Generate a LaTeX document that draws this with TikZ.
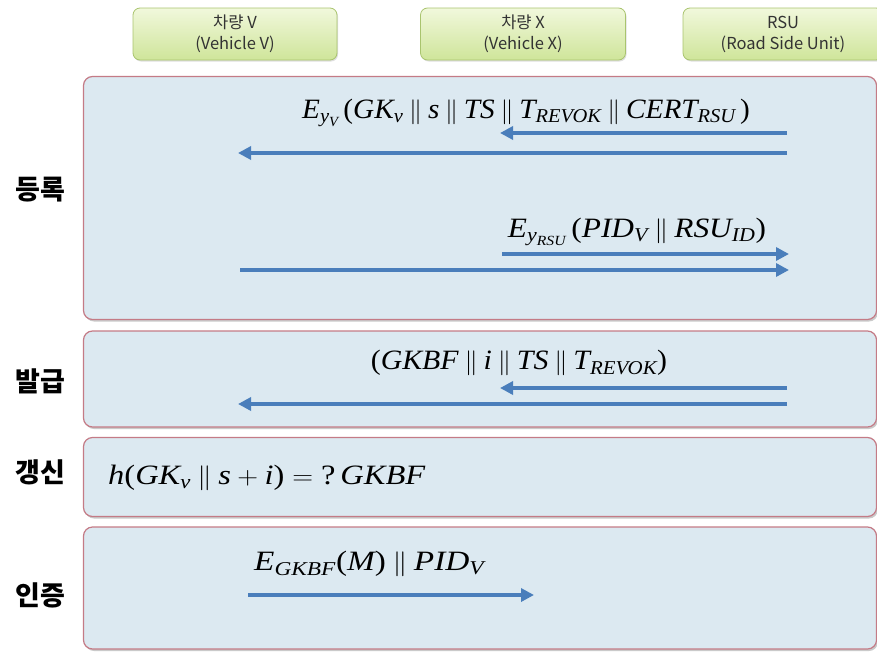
\documentclass[tikz,border=0pt]{standalone}
\usepackage{amsmath}
\usepackage{graphicx}
\usepackage{fontspec}
\setmainfont{Liberation Serif}
\newfontfamily\kr{Noto Sans CJK KR}
\usetikzlibrary{arrows.meta,shadows}
\newcommand{\mi}[1]{\textit{#1}}
\newcommand{\pp}{\mathbin{\|}}
\definecolor{panelfill}{HTML}{DCE9F1}
\definecolor{panelborder}{HTML}{C47B86}
\definecolor{arrowblue}{HTML}{4A7EBB}
\definecolor{hdrtop}{HTML}{F1F8DC}
\definecolor{hdrbot}{HTML}{CFE59A}
\definecolor{hdrborder}{HTML}{A9C46E}
\tikzset{
  panel/.style={draw=panelborder, line width=1.2pt, fill=panelfill, rounded corners=9pt,
    drop shadow={shadow xshift=1.5pt, shadow yshift=-2pt, fill=black!35, opacity=0.6}},
  hdr/.style={draw=hdrborder, line width=0.8pt, top color=hdrtop, bottom color=hdrbot,
    rounded corners=7pt, align=center, font=\kr\fontsize{16.5}{21}\selectfont, text=black!80,
    drop shadow={shadow xshift=1pt, shadow yshift=-1.5pt, fill=black!25, opacity=0.5}},
  sidelbl/.style={font=\kr\bfseries\fontsize{27}{29}\selectfont, text=black},
  msg/.style={font=\fontsize{28}{30}\selectfont, inner sep=0pt},
  flow/.style={draw=arrowblue, line width=4pt, -{Triangle[length=13pt,width=13pt]}},
}
\begin{document}
\begin{tikzpicture}[x=1pt,y=-1pt]
\useasboundingbox (0,0) rectangle (877,653);
% headers
\node[hdr, minimum width=204pt, minimum height=52pt] (hv) at (235,34) {차량 V\\(Vehicle V)};
\node[hdr, minimum width=205pt, minimum height=52pt] (hx) at (523,34) {차량 X\\(Vehicle X)};
\node[hdr, minimum width=200pt, minimum height=52pt] (hr) at (783,34) {RSU\\(Road Side Unit)};
% panels
\node[panel, minimum width=793pt, minimum height=243pt] (p1) at (480,198) {};
\node[panel, minimum width=793pt, minimum height=96pt] (p2) at (480,379) {};
\node[panel, minimum width=793pt, minimum height=79pt] (p3) at (480,477) {};
\node[panel, minimum width=793pt, minimum height=122pt] (p4) at (480,588) {};
% side labels
\node[sidelbl] (l1) at (40,190) {등록};
\node[sidelbl] (l2) at (40,381) {발급};
\node[sidelbl] (l3) at (40,472) {갱신};
\node[sidelbl] (l4) at (40,595) {인증};
% panel 1
\node[msg] (m1) at (526,113) {\scalebox{1.045}[1]{$\mi{E}_{\mi{y}_{\mi{V}}}\,\textrm{(}\mi{GK}_{\mi{v}}\pp\mi{s}\pp\mi{TS}\pp\mi{T}_{\mi{REVOK}}\pp\mi{CERT}_{\mi{RSU}}\,\textrm{)}$}};
\coordinate (a1s) at (787,133); \coordinate (a1e) at (500,133);
\coordinate (a2s) at (787,153); \coordinate (a2e) at (238,153);
\draw[flow] (a1s) -- (a1e);
\draw[flow] (a2s) -- (a2e);
\node[msg] (m2) at (637,232) {\scalebox{1.12}[1]{$\mi{E}_{\mi{y}_{\mi{RSU}}}\,\textrm{(}\mi{PID}_{\mi{V}}\pp\mi{RSU}_{\mi{ID}}\textrm{)}$}};
\coordinate (a3s) at (502,254); \coordinate (a3e) at (789,254);
\coordinate (a4s) at (240,270); \coordinate (a4e) at (789,270);
\draw[flow] (a3s) -- (a3e);
\draw[flow] (a4s) -- (a4e);
% panel 2
\node[msg] (m3) at (519,363) {\scalebox{1.065}[1]{$\textrm{(}\mi{GKBF}\pp\mi{i}\pp\mi{TS}\pp\mi{T}_{\mi{REVOK}}\textrm{)}$}};
\coordinate (a5s) at (787,388); \coordinate (a5e) at (500,388);
\coordinate (a6s) at (787,404); \coordinate (a6e) at (238,404);
\draw[flow] (a5s) -- (a5e);
\draw[flow] (a6s) -- (a6e);
% panel 3
\node[msg, anchor=west] (m4) at (108,478) {\scalebox{1.16}[1]{$\mi{h}\textrm{(}\mi{GK}_{\mi{v}}\pp\mi{s}+\mi{i}\textrm{)}=\textrm{?}\,\mi{GKBF}$}};
% panel 4
\node[msg, anchor=west] (m5) at (254,564) {\scalebox{1.19}[1]{$\mi{E}_{\mi{GKBF}}\textrm{(}\mi{M}\textrm{)}\pp\mi{PID}_{\mi{V}}$}};
\coordinate (a7s) at (248,595); \coordinate (a7e) at (534,595);
\draw[flow] (a7s) -- (a7e);
\end{tikzpicture}
\end{document}
